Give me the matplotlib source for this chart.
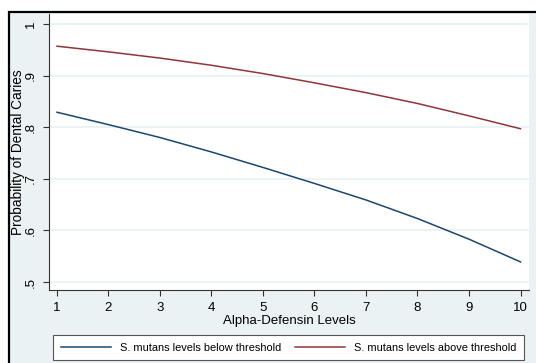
import matplotlib
matplotlib.use("Agg")
import matplotlib.pyplot as plt
from matplotlib.patches import Rectangle
from matplotlib.lines import Line2D

plt.rcParams["font.family"] = ["Liberation Sans", "DejaVu Sans"]

# Data
alpha_levels = [1, 2, 3, 4, 5, 6, 7, 8, 9, 10]
prob_below = [0.829, 0.805, 0.780, 0.752, 0.722, 0.691, 0.659, 0.623, 0.583, 0.539]
prob_above = [0.957, 0.946, 0.934, 0.920, 0.904, 0.886, 0.867, 0.846, 0.822, 0.797]
series_labels = ["S. mutans levels below threshold", "S. mutans levels above threshold"]
y_ticks = [0.5, 0.6, 0.7, 0.8, 0.9, 1.0]
y_tick_labels = [".5", ".6", ".7", ".8", ".9", "1"]

W, H = 536, 363
navy = "#1A476F"
maroon = "#90353B"
stata_bg = "#EAF2F3"

fig = plt.figure(figsize=(W / 100, H / 100), dpi=100)
fig.patch.set_facecolor("white")

# Stata-like outer region with a black border (cropped at right and bottom)
fig.patches.append(
    Rectangle((9 / W, -0.1), 1.2, 1.1 - 12 / H, transform=fig.transFigure,
              facecolor=stata_bg, edgecolor="black", linewidth=1.6, zorder=-10)
)

ax = fig.add_axes([49 / W, 1 - 290 / H, (529 - 49) / W, (290 - 14) / H])
ax.set_facecolor("white")

ax.plot(alpha_levels, prob_below, color=navy, linewidth=1.1, label=series_labels[0])
ax.plot(alpha_levels, prob_above, color=maroon, linewidth=1.1, label=series_labels[1])

ax.set_xlim(0.845, 10.165)
ax.set_ylim(0.4845, 1.0194)
ax.set_xticks(alpha_levels)
ax.set_yticks(y_ticks)
ax.set_yticklabels(y_tick_labels, rotation=90, va="center")

# Horizontal grid only, in the pale Stata colour
ax.grid(axis="y", color=stata_bg, linewidth=1.3)
ax.set_axisbelow(True)

for side in ["top", "right"]:
    ax.spines[side].set_visible(False)
for side in ["left", "bottom"]:
    ax.spines[side].set_color("#333333")
    ax.spines[side].set_linewidth(0.8)

ax.tick_params(axis="both", direction="out", length=4.5, width=0.8,
               color="#333333", labelsize=9.5, pad=4)

ax.set_xlabel("Alpha-Defensin Levels", fontsize=9.5, labelpad=1)
ax.set_ylabel("Probability of Dental Caries", fontsize=9.8, va="center")
ax.yaxis.set_label_coords((18 - 49) / (529 - 49), 0.5)

handles = [Line2D([], [], color=navy, linewidth=1.1),
           Line2D([], [], color=maroon, linewidth=1.1)]
leg = fig.legend(handles, series_labels, ncol=2, loc="upper left",
                 bbox_to_anchor=(53 / W, 1 - 362 / H, (524 - 53) / W, 27 / H),
                 mode="expand", borderaxespad=0, frameon=True, fancybox=False,
                 edgecolor="#555555", facecolor="white", framealpha=1,
                 fontsize=7.9, handlelength=4.55, handletextpad=0.82,
                 borderpad=0.7, columnspacing=1.0)
leg.get_frame().set_linewidth(0.8)

fig.savefig("out.png", dpi=100)
